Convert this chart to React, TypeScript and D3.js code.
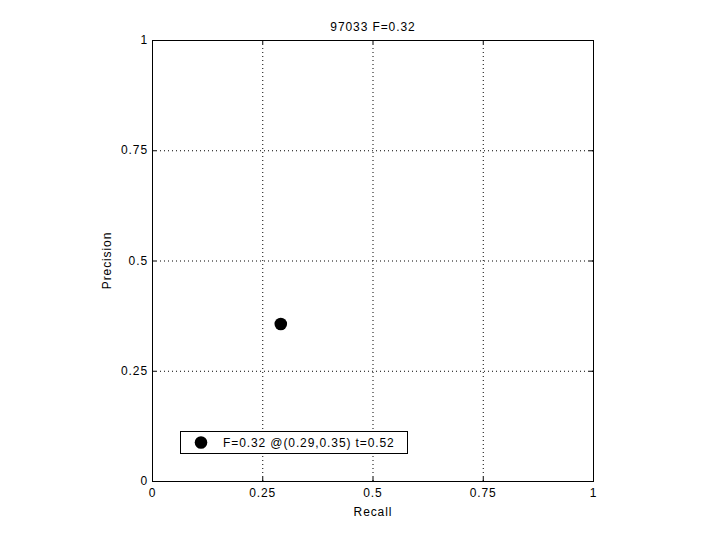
import React from "react";
import * as d3 from "d3";

const title = "97033 F=0.32";
const xTicks = [0, 0.25, 0.5, 0.75, 1];
const yTicks = [0, 0.25, 0.5, 0.75, 1];
const recallValues = [0.292];
const precisionValues = [0.356];
const legendLabels = ["F=0.32 @(0.29,0.35) t=0.52"];

export default function App() {
  const W = 720, H = 540;
  const left = 152, top = 40, right = 593, bottom = 481;
  const x = d3.scaleLinear().domain([0, 1]).range([left, right]);
  const y = d3.scaleLinear().domain([0, 1]).range([bottom, top]);
  const font = "'Liberation Sans', Arial, sans-serif";
  const ls = 0.9;
  const fmt = (v: number) => (v === 0 ? "0" : v === 1 ? "1" : String(v));
  return (
    <svg width={W} height={H} style={{ position: "absolute", left: 0, top: 0, background: "#fff" }}>
      <rect x={0} y={0} width={W} height={H} fill="#fff" />
      {xTicks.slice(1, -1).map((t) => (
        <line key={"gx" + t} x1={x(t) + 0.5} x2={x(t) + 0.5} y1={top} y2={bottom} stroke="#000" strokeWidth={1} strokeDasharray="1,3" />
      ))}
      {yTicks.slice(1, -1).map((t) => (
        <line key={"gy" + t} x1={left} x2={right} y1={y(t) + 0.5} y2={y(t) + 0.5} stroke="#000" strokeWidth={1} strokeDasharray="1,3" />
      ))}
      {xTicks.map((t) => (
        <g key={"tx" + t}>
          <line x1={x(t) + 0.5} x2={x(t) + 0.5} y1={bottom} y2={bottom - 4} stroke="#000" />
          <line x1={x(t) + 0.5} x2={x(t) + 0.5} y1={top} y2={top + 4} stroke="#000" />
          <text x={x(t) + ls / 2} y={497} textAnchor="middle" fontFamily={font} fontSize={12} letterSpacing={ls}>{fmt(t)}</text>
        </g>
      ))}
      {yTicks.map((t) => (
        <g key={"ty" + t}>
          <line x1={left} x2={left + 4} y1={y(t) + 0.5} y2={y(t) + 0.5} stroke="#000" />
          <line x1={right} x2={right - 4} y1={y(t) + 0.5} y2={y(t) + 0.5} stroke="#000" />
          <text x={148} y={y(t) + 4} textAnchor="end" fontFamily={font} fontSize={12} letterSpacing={ls}>{fmt(t)}</text>
        </g>
      ))}
      <rect x={left + 0.5} y={top + 0.5} width={right - left} height={bottom - top} fill="none" stroke="#000" strokeWidth={1} />
      {recallValues.map((r, i) => (
        <circle key={"p" + i} cx={x(r)} cy={y(precisionValues[i])} r={6.3} fill="#000" />
      ))}
      <text x={(left + right) / 2 + ls / 2} y={31} textAnchor="middle" fontFamily={font} fontSize={12} letterSpacing={ls}>{title}</text>
      <text x={(left + right) / 2 + ls / 2} y={516} textAnchor="middle" fontFamily={font} fontSize={12} letterSpacing={ls}>Recall</text>
      <text transform={`translate(111,${(top + bottom) / 2}) rotate(-90)`} textAnchor="middle" fontFamily={font} fontSize={12} letterSpacing={ls}>Precision</text>
      <rect x={180.5} y={431.5} width={227} height={22} fill="#fff" stroke="#000" strokeWidth={1} />
      <circle cx={201} cy={442.5} r={6.3} fill="#000" />
      <text x={223} y={447} fontFamily={font} fontSize={12} letterSpacing={ls}>{legendLabels[0]}</text>
    </svg>
  );
}
